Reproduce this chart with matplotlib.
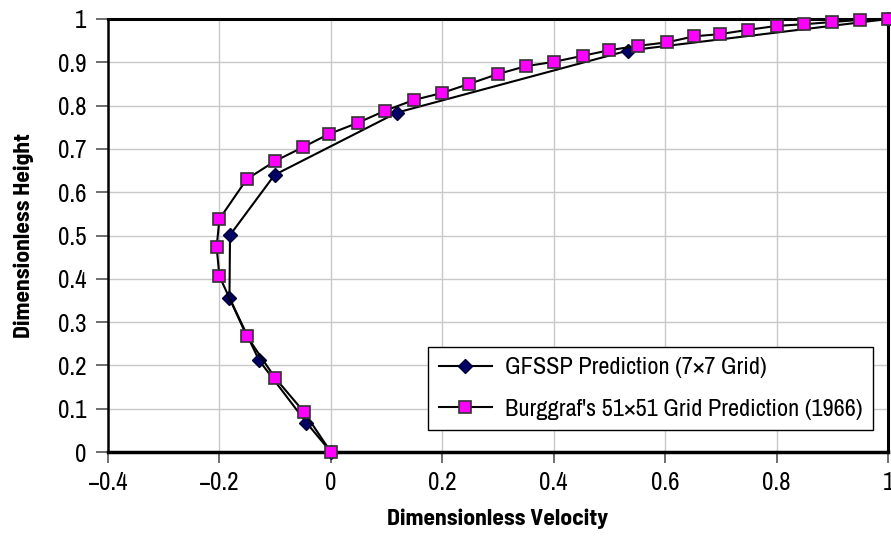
import matplotlib
matplotlib.use("Agg")
import matplotlib.pyplot as plt

plt.rcParams['font.family'] = ['Archivo Narrow', 'DejaVu Sans']

# GFSSP prediction (7x7 grid)
gfssp_u = [0.0, -0.044, -0.129, -0.182, -0.181, -0.101, 0.119, 0.533, 1.0]
gfssp_y = [0.0, 0.068, 0.212, 0.356, 0.501, 0.640, 0.784, 0.927, 1.0]

# Burggraf's 51x51 grid prediction (1966)
burg_u = [0.0, -0.048, -0.100, -0.151, -0.200, -0.205, -0.200, -0.151, -0.100,
          -0.050, -0.004, 0.048, 0.097, 0.149, 0.199, 0.248, 0.300, 0.350,
          0.400, 0.452, 0.500, 0.551, 0.603, 0.652, 0.698, 0.749, 0.800,
          0.850, 0.900, 0.950, 1.0]
burg_y = [0.0, 0.092, 0.171, 0.268, 0.406, 0.473, 0.538, 0.630, 0.672,
          0.704, 0.734, 0.760, 0.788, 0.813, 0.829, 0.850, 0.873, 0.891,
          0.901, 0.915, 0.928, 0.938, 0.946, 0.960, 0.965, 0.975, 0.984,
          0.988, 0.993, 0.998, 1.0]

xticks = [-0.4, -0.2, 0, 0.2, 0.4, 0.6, 0.8, 1]
xticklabels = ['\u22120.4', '\u22120.2', '0', '0.2', '0.4', '0.6', '0.8', '1']
yticks = [0, 0.1, 0.2, 0.3, 0.4, 0.5, 0.6, 0.7, 0.8, 0.9, 1]
yticklabels = ['0', '0.1', '0.2', '0.3', '0.4', '0.5', '0.6', '0.7', '0.8', '0.9', '1']

fig = plt.figure(figsize=(8.91, 5.36), dpi=100)
ax = fig.add_axes([108/891, 1-452/536, (888-108)/891, (452-19)/536])

ax.plot(gfssp_u, gfssp_y, color='black', lw=1.5, marker='D', markersize=7,
        markerfacecolor='#000066', markeredgecolor='#000033',
        label='GFSSP Prediction (7\u00d77 Grid)', clip_on=False, zorder=3)
ax.plot(burg_u, burg_y, color='black', lw=1.5, marker='s', markersize=8.5,
        markerfacecolor='#ff00ff', markeredgecolor='#333333', markeredgewidth=1.2,
        label="Burggraf's 51\u00d751 Grid Prediction (1966)", clip_on=False, zorder=4)

ax.set_xlim(-0.4, 1)
ax.set_ylim(0, 1)
ax.set_xticks(xticks)
ax.set_xticklabels(xticklabels)
ax.set_yticks(yticks)
ax.set_yticklabels(yticklabels)
ax.grid(True, color='#c8c8c8', lw=1)
ax.set_axisbelow(True)
ax.tick_params(axis='both', direction='out', length=8.5, width=1.2, labelsize=18,
               color='#555555', labelcolor='black')
ax.tick_params(axis='y', pad=7)
ax.tick_params(axis='x', pad=6, length=8)

for side, lw in [('left', 1.8), ('bottom', 2.5), ('top', 2.2), ('right', 2.2)]:
    ax.spines[side].set_linewidth(lw)
    ax.spines[side].set_color('black')

lab_font = dict(family=['Barlow Semi Condensed', 'DejaVu Sans'], fontsize=17, fontweight='bold')
ax.set_xlabel('Dimensionless Velocity', labelpad=10, **lab_font)
ax.set_ylabel('Dimensionless Height', labelpad=17, **lab_font)

leg = ax.legend(loc='lower right', bbox_to_anchor=(0.981, 0.051), fontsize=17.5,
                frameon=True, fancybox=False, framealpha=1, edgecolor='black',
                handlelength=2.2, borderpad=0.42, labelspacing=0.85, borderaxespad=0,
                handletextpad=0.55)
leg.get_frame().set_linewidth(1.0)

fig.savefig('out.png', dpi=100)
